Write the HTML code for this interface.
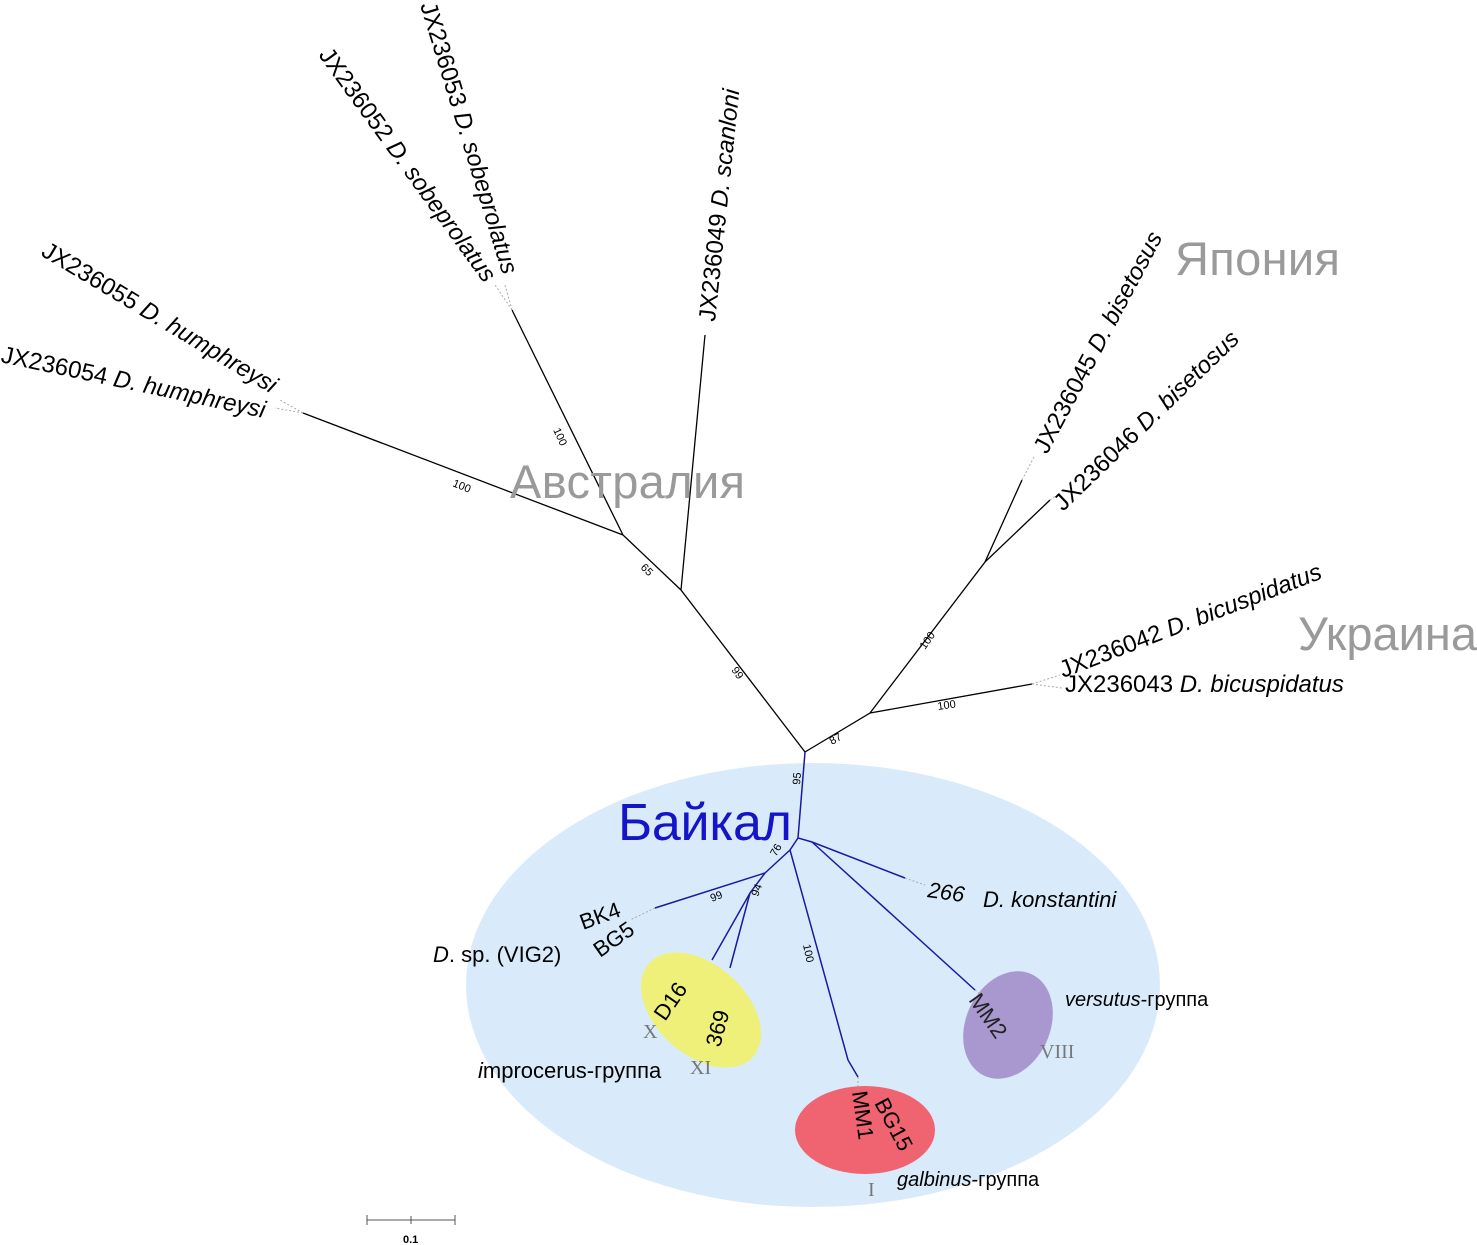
<!DOCTYPE html>
<html><head><meta charset="utf-8"><style>
html,body{margin:0;padding:0;background:#fff;}
svg{display:block;font-family:"Liberation Sans",sans-serif;}
</style></head><body>
<svg width="1477" height="1245" viewBox="0 0 1477 1245" xmlns="http://www.w3.org/2000/svg">
<ellipse cx="813" cy="985" rx="347" ry="222" fill="#d9ebfa"/>
<ellipse cx="701" cy="1010" rx="70" ry="45" transform="rotate(42 701 1010)" fill="#eef07a"/>
<ellipse cx="865" cy="1130" rx="70" ry="44" fill="#ef6470"/>
<ellipse cx="1008" cy="1025" rx="42" ry="56" transform="rotate(25 1008 1025)" fill="#a898cf"/>

<g stroke="#000" stroke-width="1.3" fill="none">
<polyline points="805,752 681,590 705,335"/>
<polyline points="681,590 623,535 512,310"/>
<line x1="623" y1="535" x2="303" y2="413"/>
<polyline points="805,752 870,713 985,562 1022,480"/>
<line x1="985" y1="562" x2="1050" y2="500"/>
<line x1="870" y1="713" x2="1032" y2="684"/>
</g>
<g stroke="#aaa" stroke-width="1" stroke-dasharray="2,2" fill="none">
<line x1="512" y1="310" x2="495" y2="285"/><line x1="512" y1="310" x2="505" y2="285"/>
<line x1="303" y1="413" x2="280" y2="400"/><line x1="303" y1="413" x2="275" y2="408"/>
<line x1="1022" y1="480" x2="1035" y2="455"/><line x1="1050" y1="500" x2="1060" y2="493"/>
<line x1="1032" y1="684" x2="1060" y2="675"/><line x1="1032" y1="684" x2="1062" y2="688"/>
<line x1="905" y1="878" x2="925" y2="885"/><line x1="655" y1="908" x2="630" y2="920"/>
<line x1="975" y1="990" x2="990" y2="1000"/><line x1="858" y1="1077" x2="858" y2="1090"/>
</g>
<g stroke="#1a1aa0" stroke-width="1.5" fill="none">
<polyline points="805,752 798,838 812,842 905,878"/>
<line x1="812" y1="842" x2="975" y2="990"/>
<polyline points="798,838 790,850 848,1060 858,1077"/>
<polyline points="790,850 765,873 655,908"/>
<polyline points="765,873 750,893 712,960"/>
<line x1="750" y1="893" x2="730" y2="968"/>
</g>

<g font-size="11" fill="#000">
<text transform="translate(553,430) rotate(65)">100</text>
<text transform="translate(452,486) rotate(22)">100</text>
<text transform="translate(640,568) rotate(45)">65</text>
<text transform="translate(731,670) rotate(55)">99</text>
<text transform="translate(832,745) rotate(-30)">87</text>
<text transform="translate(925,650) rotate(-55)">100</text>
<text transform="translate(938,710) rotate(-8)">100</text>
<text transform="translate(800,785) rotate(-85)">95</text>
<text transform="translate(776,857) rotate(-60)">76</text>
<text transform="translate(712,902) rotate(-22)">99</text>
<text transform="translate(758,897) rotate(-70)">94</text>
<text transform="translate(803,945) rotate(78)">100</text>
</g>

<g font-size="24" fill="#000">
<text transform="translate(40,255) rotate(31)">JX236055 <tspan font-style="italic">D. humphreysi</tspan></text>
<text transform="translate(0,362) rotate(12)">JX236054 <tspan font-style="italic">D. humphreysi</tspan></text>
<text transform="translate(318,55) rotate(54)">JX236052 <tspan font-style="italic">D. sobeprolatus</tspan></text>
<text transform="translate(420,5) rotate(73)">JX236053 <tspan font-style="italic">D. sobeprolatus</tspan></text>
<text transform="translate(715,322) rotate(-84)">JX236049 <tspan font-style="italic">D. scanloni</tspan></text>
<text transform="translate(1047,455) rotate(-62)">JX236045 <tspan font-style="italic">D. bisetosus</tspan></text>
<text transform="translate(1063,512) rotate(-44)">JX236046 <tspan font-style="italic">D. bisetosus</tspan></text>
<text transform="translate(1063,678) rotate(-21)">JX236042 <tspan font-style="italic">D. bicuspidatus</tspan></text>
<text x="1065" y="692">JX236043 <tspan font-style="italic">D. bicuspidatus</tspan></text>
</g>
<g font-size="22" fill="#000">
<text transform="translate(927,897) rotate(8)" font-style="italic">266</text>
<text x="983" y="907" font-style="italic">D. konstantini</text>
<text transform="translate(583,930) rotate(-20)">BK4</text>
<text transform="translate(600,958) rotate(-35)">BG5</text>
<text x="433" y="962"><tspan font-style="italic">D</tspan>. sp. (VIG2)</text>
<text transform="translate(665,1022) rotate(-55)">D16</text>
<text transform="translate(720,1048) rotate(-75)">369</text>
<text transform="translate(968,1000) rotate(55)" fill="#222">MM2</text>
<text transform="translate(874,1103) rotate(62)">BG15</text>
<text transform="translate(852,1092) rotate(82)">MM1</text>
<text x="478" y="1078"><tspan font-style="italic">i</tspan>mprocerus-группа</text>
<text x="1065" y="1006" font-style="italic" font-size="20">versutus<tspan font-style="normal">-группа</tspan></text>
<text x="897" y="1186" font-style="italic" font-size="20">galbinus<tspan font-style="normal">-группа</tspan></text>
</g>
<g font-family="Liberation Serif,serif" font-size="20" fill="#777">
<text x="643" y="1038">X</text>
<text x="690" y="1074">XI</text>
<text x="1040" y="1058">VIII</text>
<text x="868" y="1196">I</text>
</g>
<g font-size="47" fill="#9a9a9a">
<text x="510" y="498" textLength="235">Австралия</text>
<text x="1175" y="275" textLength="165">Япония</text>
<text x="1298" y="650" textLength="179">Украина</text>
</g>
<text x="618" y="840" font-size="52" fill="#1414c8" textLength="174">Байкал</text>

<g stroke="#555" stroke-width="1">
<line x1="367" y1="1220" x2="455" y2="1220"/>
<line x1="367" y1="1215" x2="367" y2="1225"/>
<line x1="411" y1="1216" x2="411" y2="1224"/>
<line x1="455" y1="1215" x2="455" y2="1225"/>
</g>
<text x="403" y="1243" font-size="11" font-weight="bold">0.1</text>
</svg>
</body></html>
